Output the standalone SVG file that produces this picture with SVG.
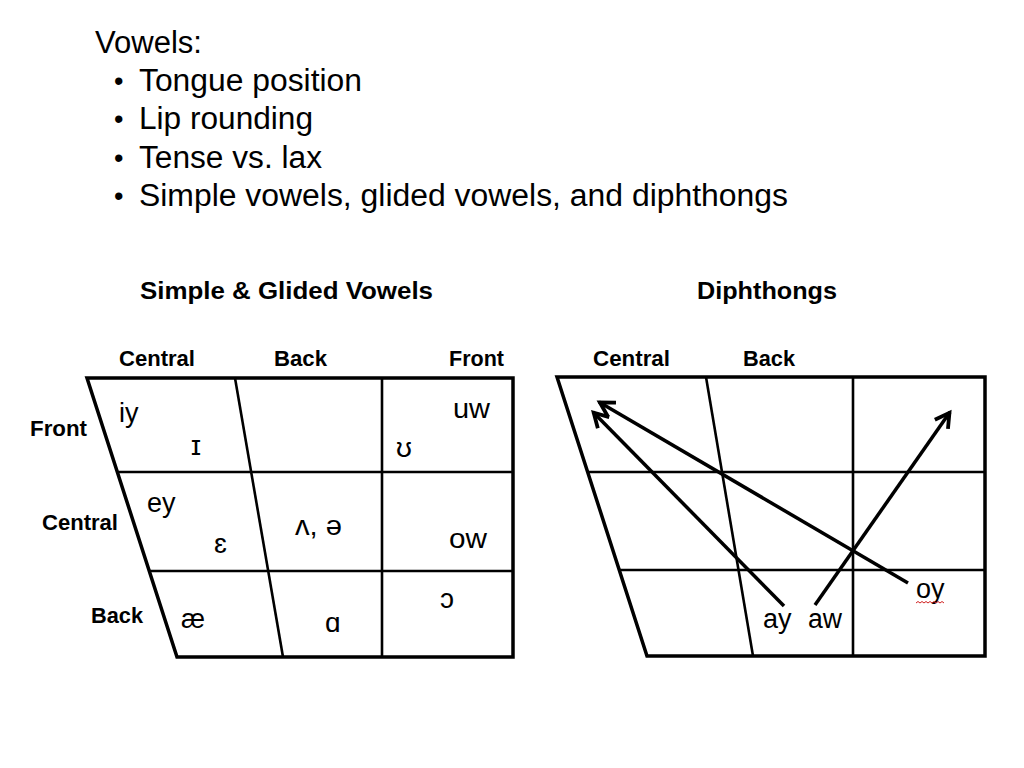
<svg xmlns="http://www.w3.org/2000/svg" width="1024" height="768" viewBox="0 0 1024 768">
<style>
.t{font-family:"Liberation Sans","DejaVu Sans",sans-serif;fill:#000}
.top{font-size:31px}
.bul{font-size:27px}
.hd{font-size:23px;font-weight:bold}
.lb{font-size:22px;font-weight:bold}
.c{font-size:27px}
.ipa{font-size:28px}
.frame{fill:none;stroke:#000;stroke-width:3.5;stroke-linejoin:miter}
.grid{fill:none;stroke:#000;stroke-width:2.6}
.arr{fill:none;stroke:#000;stroke-width:3.5;marker-end:url(#ah)}
</style>
<defs>
<marker id="ah" markerUnits="userSpaceOnUse" viewBox="-20 -12 24 24" markerWidth="24" markerHeight="24" refX="1" refY="0" orient="auto" overflow="visible">
<path d="M-14,-8 L0,0 L-14,8" fill="none" stroke="#000" stroke-width="3.8" stroke-linejoin="miter"/>
</marker>
</defs>
<rect width="1024" height="768" fill="#fff"/>
<g id="bullets">
<text class="t top" x="95" y="53" textLength="107" lengthAdjust="spacingAndGlyphs">Vowels:</text>
<text class="t bul" x="114" y="90">•</text>
<text class="t top" x="139" y="91" textLength="223" lengthAdjust="spacingAndGlyphs">Tongue position</text>
<text class="t bul" x="114" y="128">•</text>
<text class="t top" x="139" y="129" textLength="174" lengthAdjust="spacingAndGlyphs">Lip rounding</text>
<text class="t bul" x="114" y="167">•</text>
<text class="t top" x="139" y="168" textLength="183" lengthAdjust="spacingAndGlyphs">Tense vs. lax</text>
<text class="t bul" x="114" y="205">•</text>
<text class="t top" x="139" y="206" textLength="649" lengthAdjust="spacingAndGlyphs">Simple vowels, glided vowels, and diphthongs</text>
</g>
<g id="chart-simple">
<text class="t hd" x="140" y="299" textLength="293" lengthAdjust="spacingAndGlyphs">Simple &amp; Glided Vowels</text>
<text class="t lb" x="119" y="366" textLength="76" lengthAdjust="spacingAndGlyphs">Central</text>
<text class="t lb" x="274" y="366" textLength="53" lengthAdjust="spacingAndGlyphs">Back</text>
<text class="t lb" x="449" y="366" textLength="55" lengthAdjust="spacingAndGlyphs">Front</text>
<text class="t lb" x="30" y="436" textLength="57" lengthAdjust="spacingAndGlyphs">Front</text>
<text class="t lb" x="42" y="530" textLength="76" lengthAdjust="spacingAndGlyphs">Central</text>
<text class="t lb" x="91" y="623" textLength="52" lengthAdjust="spacingAndGlyphs">Back</text>
<polygon class="frame" points="87,378 513,378 513,657 177,657"/>
<line class="grid" x1="117" y1="472" x2="513" y2="472"/>
<line class="grid" x1="150" y1="571" x2="513" y2="571"/>
<line class="grid" x1="235" y1="378" x2="283" y2="657"/>
<line class="grid" x1="382" y1="378" x2="382" y2="657"/>
<text class="t c" x="119" y="422">iy</text>
<text class="t ipa" x="191" y="455">ɪ</text>
<text class="t ipa" x="396" y="457">ʊ</text>
<text class="t c" x="453" y="418" textLength="37" lengthAdjust="spacingAndGlyphs">uw</text>
<text class="t c" x="147" y="512">ey</text>
<text class="t ipa" x="214" y="553">ɛ</text>
<text class="t ipa" x="295" y="535" textLength="47" lengthAdjust="spacingAndGlyphs">ʌ, ə</text>
<text class="t c" x="449" y="548" textLength="38" lengthAdjust="spacingAndGlyphs">ow</text>
<text class="t ipa" x="440" y="608">ɔ</text>
<text class="t c" x="181" y="628">æ</text>
<text class="t ipa" x="325" y="632">ɑ</text>
</g>
<g id="chart-diphthongs">
<text class="t hd" x="697" y="299" textLength="140" lengthAdjust="spacingAndGlyphs">Diphthongs</text>
<text class="t lb" x="593" y="366" textLength="77" lengthAdjust="spacingAndGlyphs">Central</text>
<text class="t lb" x="743" y="366" textLength="52" lengthAdjust="spacingAndGlyphs">Back</text>
<polygon class="frame" points="557,377 985,377 985,656 647,656"/>
<line class="grid" x1="588" y1="472" x2="985" y2="472"/>
<line class="grid" x1="620" y1="570" x2="985" y2="570"/>
<line class="grid" x1="706" y1="377" x2="753" y2="656"/>
<line class="grid" x1="853" y1="377" x2="853" y2="656"/>
<text class="t c" x="763" y="628">ay</text>
<text class="t c" x="808" y="628" textLength="34" lengthAdjust="spacingAndGlyphs">aw</text>
<text class="t c" x="916" y="598">oy</text>
<path d="M916,603 l2,-1.5 l2,1.5 l2,-1.5 l2,1.5 l2,-1.5 l2,1.5 l2,-1.5 l2,1.5 l2,-1.5 l2,1.5 l2,-1.5 l2,1.5 l2,-1.5 l2,1.5" fill="none" stroke="#d02020" stroke-width="1"/>
</g>
<g id="connectors">
<line class="arr" x1="784" y1="606" x2="593" y2="412"/>
<line class="arr" x1="908" y1="583" x2="599" y2="402"/>
<line class="arr" x1="815" y1="605" x2="950" y2="412"/>
</g>
</svg>
